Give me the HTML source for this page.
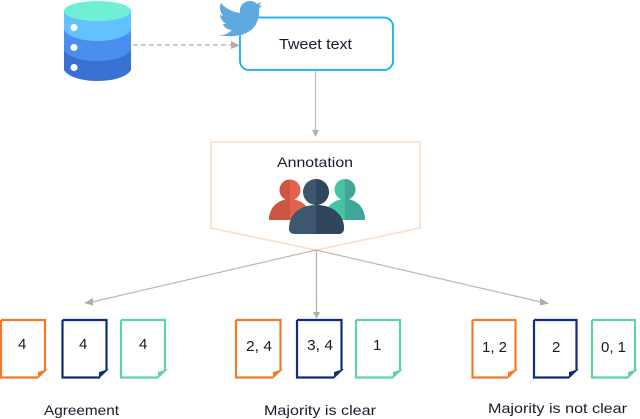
<!DOCTYPE html>
<html><head><meta charset="utf-8"><style>
html,body{margin:0;padding:0;background:#fff}
svg{display:block}
text{font-family:"Liberation Sans",sans-serif;font-size:15px;fill:#141c2c}
</style></head><body>
<svg width="640" height="419" viewBox="0 0 640 419" xmlns="http://www.w3.org/2000/svg">
<!-- database -->
<path d="M64 11 V70 C68 77 82 81 97.500 81 C113 81 127 77 131 70 V11 Z" fill="#3871d1"/>
<path d="M64 11 V50 C68 57 82 61 97.500 61 C113 61 127 57 131 50 V11 Z" fill="#4a8ff0"/>
<path d="M64 11 V30 C68 37 82 41 97.500 41 C113 41 127 37 131 30 V11 Z" fill="#62c1ff"/>
<ellipse cx="97.500" cy="11" rx="33.500" ry="10" fill="#6ff0d6"/>
<circle cx="74" cy="27.500" r="3.500" fill="#fff"/><circle cx="74" cy="47.500" r="3.500" fill="#fff"/><circle cx="74" cy="67.500" r="3.500" fill="#fff"/>
<!-- dashed arrow -->
<line x1="133" y1="45" x2="232" y2="45" stroke="#b0aeae" stroke-width="1.200" stroke-dasharray="5 3"/>
<path d="M231 41 L240 45.500 L231 49 Z" fill="#b0aeae"/>
<!-- tweet box -->
<rect x="240" y="17.500" width="153" height="52.500" rx="9" fill="#fff" stroke="#0fb0ee" stroke-width="1.800"/>
<text x="279" y="49" textLength="73" lengthAdjust="spacingAndGlyphs">Tweet text</text>
<!-- twitter bird -->
<path d="M218 35 C224 36 229 33 232 30 C227 30 224 27 223 24 L226 24 C222 21 220 18 220 15 L223 16 C220 12 219 7 221 3 C226 9 233 12 240 13 C239 6 244 1 250 1 C253 1 255 2 257 4 L261 2 L259 6 L262 5 L259 9 C260 18 256 28 248 32 C240 37 226 37 218 35 Z" fill="#5eaae0"/>
<!-- arrow down -->
<line x1="315.500" y1="71" x2="315.500" y2="131" stroke="#bdbbbb" stroke-width="1.200"/>
<path d="M312 130 L319 130 L315.500 137 Z" fill="#b0aeae"/>
<!-- annotation pentagon -->
<path d="M211 142 H420 V228 L316 250 L211 228 Z" fill="#fff" stroke="#fddcc8" stroke-width="1.600"/>
<text x="277" y="167" textLength="76" lengthAdjust="spacingAndGlyphs" style="font-size:14px">Annotation</text>
<!-- people -->
<circle cx="290" cy="190" r="10.500" fill="#e2624e"/>
<path d="M269 220 C269 207 279 199 290 199 C301 199 311 207 311 220 Z" fill="#e2624e"/>
<path d="M290 179.500 A10.500 10.500 0 0 0 290 200.500 Z M290 199 C279 199 269 207 269 220 H290 Z" fill="#cd5642"/>
<circle cx="345" cy="189.500" r="10.500" fill="#45c4a0"/>
<path d="M324 220 C324 207 334 199 345 199 C356 199 365 207 365 220 Z" fill="#45c4a0"/>
<path d="M345 179 A10.500 10.500 0 0 1 345 200 Z M345 199 C356 199 365 207 365 220 H345 Z" fill="#3fa699"/>
<circle cx="316" cy="192" r="13" fill="#3d576e"/>
<path d="M289 229 C289 213 301 205 316 205 C333 205 344 215 344 228 C344 232 342 234 338 234 H295 C291 234 289 232 289 229 Z" fill="#3d576e"/>
<path d="M316 179 A13 13 0 0 1 316 205 Z M316 205 C333 205 344 215 344 228 C344 232 342 234 338 234 H316 Z" fill="#30465a"/>
<!-- arrows fan -->
<line x1="316" y1="250" x2="92" y2="302" stroke="#b9b7b7" stroke-width="1.200"/>
<path d="M84 303 L93 298 L93 305.500 Z" fill="#b0aeae"/>
<line x1="316.500" y1="250" x2="316.500" y2="313" stroke="#b3b1b1" stroke-width="1.200"/>
<path d="M313 312 L320 312 L316.500 319 Z" fill="#b0aeae"/>
<line x1="316" y1="250" x2="541" y2="302" stroke="#b9b7b7" stroke-width="1.200"/>
<path d="M549 303.500 L540 298 L540 305.500 Z" fill="#b0aeae"/>
<!-- docs -->
<g fill="none" stroke-width="2.200">
<path d="M1 320 H45 V370 M38 377.500 H1 V320" stroke="#f4792a"/>
<path d="M62.500 320 H106.500 V370 M100 377.500 H62.500 V320" stroke="#0f2c7c"/>
<path d="M121 320 H165 V370 M158 377.500 H121 V320" stroke="#5dd3a6"/>
<path d="M236 320 H280.500 V370 M273 377.500 H236 V320" stroke="#f4792a"/>
<path d="M297 320 H341.500 V370 M334 377.500 H297 V320" stroke="#0f2c7c"/>
<path d="M356 320 H400 V370 M393 377.500 H356 V320" stroke="#5dd3a6"/>
<path d="M472.500 320 H515.500 V370 M508 377.500 H472.500 V320" stroke="#f4792a"/>
<path d="M534 320 H576.500 V370 M569 377.500 H534 V320" stroke="#0f2c7c"/>
<path d="M592 320 H635 V370 M628 377.500 H592 V320" stroke="#5dd3a6"/>
</g>
<path d="M38 378.500 V372 L48 369 Z" fill="#f4792a"/>
<path d="M99 378.500 V372 L109 369 Z" fill="#0f2c7c"/>
<path d="M158 378.500 V372 L168 369 Z" fill="#5dd3a6"/>
<path d="M273 378.500 V372 L283 369 Z" fill="#f4792a"/>
<path d="M334 378.500 V372 L344 369 Z" fill="#0f2c7c"/>
<path d="M393 378.500 V372 L403 369 Z" fill="#5dd3a6"/>
<path d="M508 378.500 V372 L518 369 Z" fill="#f4792a"/>
<path d="M569 378.500 V372 L579 369 Z" fill="#0f2c7c"/>
<path d="M628 378.500 V372 L638 369 Z" fill="#5dd3a6"/>
<!-- doc labels -->
<text x="18" y="349">4</text>
<text x="79" y="349">4</text>
<text x="139" y="349">4</text>
<text x="246" y="351" textLength="26" lengthAdjust="spacingAndGlyphs">2, 4</text>
<text x="307" y="350" textLength="26" lengthAdjust="spacingAndGlyphs">3, 4</text>
<text x="373" y="350">1</text>
<text x="482" y="352" textLength="25" lengthAdjust="spacingAndGlyphs">1, 2</text>
<text x="552" y="352">2</text>
<text x="601" y="352" textLength="25" lengthAdjust="spacingAndGlyphs">0, 1</text>
<!-- captions -->
<text x="44" y="415" textLength="75" lengthAdjust="spacingAndGlyphs" style="font-size:14px">Agreement</text>
<text x="264" y="415" textLength="112" lengthAdjust="spacingAndGlyphs" style="font-size:14px">Majority is clear</text>
<text x="488" y="413" textLength="139" lengthAdjust="spacingAndGlyphs" style="font-size:14px">Majority is not clear</text>
</svg>
</body></html>
